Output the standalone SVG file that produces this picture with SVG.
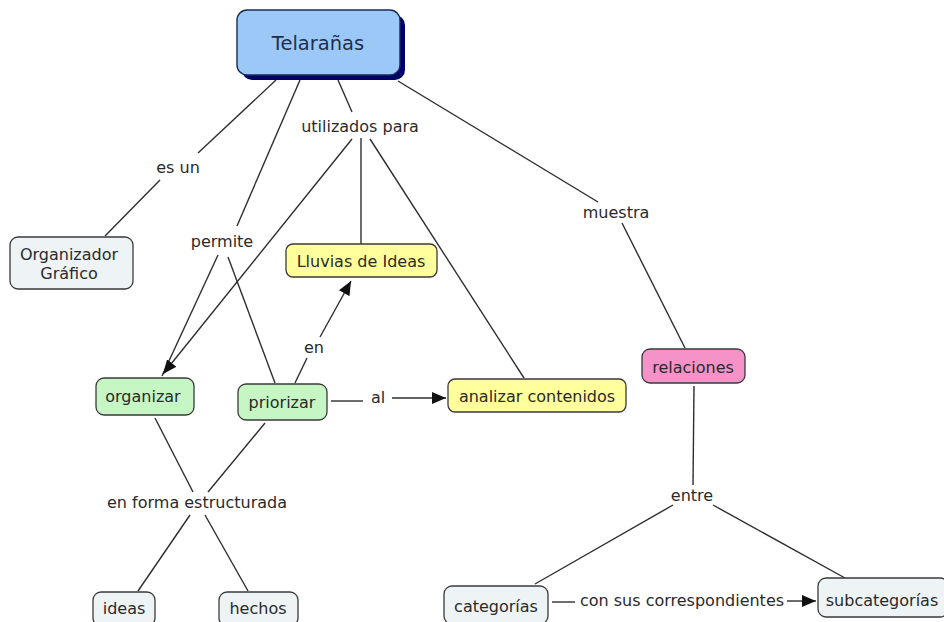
<svg xmlns="http://www.w3.org/2000/svg" width="944" height="622" viewBox="0 0 944 622">
  <defs>
    <style>
      text { font-family: "DejaVu Sans", Verdana, sans-serif; font-size: 16px; fill: #2a2a2a; text-anchor: middle; }
      .box { stroke: #3a3a3a; stroke-width: 1.3; }
      .gray { fill: #eef3f5; }
      .green { fill: #c6f6c4; }
      .yellow { fill: #ffff9c; }
      .pink { fill: #f592c8; }
      .link { stroke: #2e2e2e; stroke-width: 1.4; fill: none; }
      .big { font-size: 19.5px; fill: #1f2f4a; }
    </style>
    <marker id="arrow" viewBox="0 0 14 12" refX="14" refY="6" markerWidth="14" markerHeight="12" markerUnits="userSpaceOnUse" orient="auto">
      <path d="M0,0 L14,6 L0,12 z" fill="#111"/>
    </marker>
  </defs>
  <rect width="944" height="622" fill="#ffffff"/>

  <!-- connectors -->
  <g id="connectors">
    <line class="link" x1="276" y1="80" x2="198" y2="153"/>
    <line class="link" x1="160" y1="180" x2="105" y2="236"/>
    <line class="link" x1="300" y1="80" x2="237" y2="226"/>
    <line class="link" x1="218" y1="255" x2="162" y2="376"/>
    <line class="link" x1="228" y1="257" x2="275" y2="383"/>
    <line class="link" x1="338" y1="80" x2="352" y2="112"/>
    <line class="link" x1="352" y1="139" x2="163" y2="374" marker-end="url(#arrow)"/>
    <line class="link" x1="361" y1="138" x2="361" y2="244"/>
    <line class="link" x1="370" y1="139" x2="524" y2="378"/>
    <line class="link" x1="398" y1="81" x2="598" y2="202"/>
    <line class="link" x1="622" y1="223" x2="685" y2="348"/>
    <line class="link" x1="295" y1="383" x2="307" y2="358"/>
    <line class="link" x1="320" y1="337" x2="351" y2="281" marker-end="url(#arrow)"/>
    <line class="link" x1="331" y1="401" x2="363" y2="401"/>
    <line class="link" x1="392" y1="398" x2="446" y2="398" marker-end="url(#arrow)"/>
    <line class="link" x1="155" y1="418" x2="193" y2="492"/>
    <line class="link" x1="265" y1="423" x2="208" y2="492"/>
    <line class="link" x1="190" y1="515" x2="138" y2="591"/>
    <line class="link" x1="205" y1="515" x2="248" y2="591"/>
    <line class="link" x1="694" y1="386" x2="693" y2="485"/>
    <line class="link" x1="673" y1="505" x2="535" y2="584"/>
    <line class="link" x1="713" y1="505" x2="845" y2="578"/>
    <line class="link" x1="552" y1="602" x2="575" y2="602"/>
    <line class="link" x1="787" y1="601" x2="816" y2="601" marker-end="url(#arrow)"/>
  </g>

  <!-- link phrases -->
  <g id="labels">
    <text x="178" y="173">es un</text>
    <text x="360" y="132">utilizados para</text>
    <text x="222" y="247">permite</text>
    <text x="616" y="218">muestra</text>
    <text x="314" y="353">en</text>
    <text x="378" y="403">al</text>
    <text x="197" y="508">en forma estructurada</text>
    <text x="692" y="501">entre</text>
    <text x="682" y="606">con sus correspondientes</text>
  </g>

  <!-- concepts -->
  <g id="telaranas">
    <rect x="242" y="15" width="163" height="65" rx="10" fill="#000066"/>
    <rect x="237" y="10" width="163" height="65" rx="10" fill="#9cc8f8" stroke="#1a2a55" stroke-width="1.4"/>
    <text class="big" x="318" y="50">Telarañas</text>
  </g>
  <g id="organizador-grafico">
    <rect class="box gray" x="10" y="237" width="123" height="52" rx="8"/>
    <text x="69" y="260">Organizador</text>
    <text x="69" y="279">Gráfico</text>
  </g>
  <g id="organizar">
    <rect class="box green" x="96" y="378" width="98" height="37" rx="8"/>
    <text x="143" y="402">organizar</text>
  </g>
  <g id="priorizar">
    <rect class="box green" x="238" y="384" width="89" height="36" rx="8"/>
    <text x="282" y="408">priorizar</text>
  </g>
  <g id="lluvias-de-ideas">
    <rect class="box yellow" x="286" y="244" width="151" height="33" rx="7"/>
    <text x="361" y="267">Lluvias de Ideas</text>
  </g>
  <g id="analizar-contenidos">
    <rect class="box yellow" x="448" y="379" width="178" height="33" rx="7"/>
    <text x="537" y="402">analizar contenidos</text>
  </g>
  <g id="relaciones">
    <rect class="box pink" x="642" y="349" width="103" height="34" rx="8"/>
    <text x="693" y="373">relaciones</text>
  </g>
  <g id="categorias">
    <rect class="box gray" x="444" y="586" width="104" height="38" rx="8"/>
    <text x="496" y="612">categorías</text>
  </g>
  <g id="subcategorias">
    <rect class="box gray" x="818" y="578" width="130" height="39" rx="8"/>
    <text x="882" y="606">subcategorías</text>
  </g>
  <g id="ideas">
    <rect class="box gray" x="93" y="592" width="62" height="34" rx="8"/>
    <text x="124" y="614">ideas</text>
  </g>
  <g id="hechos">
    <rect class="box gray" x="219" y="592" width="79" height="34" rx="8"/>
    <text x="258" y="614">hechos</text>
  </g>
</svg>
